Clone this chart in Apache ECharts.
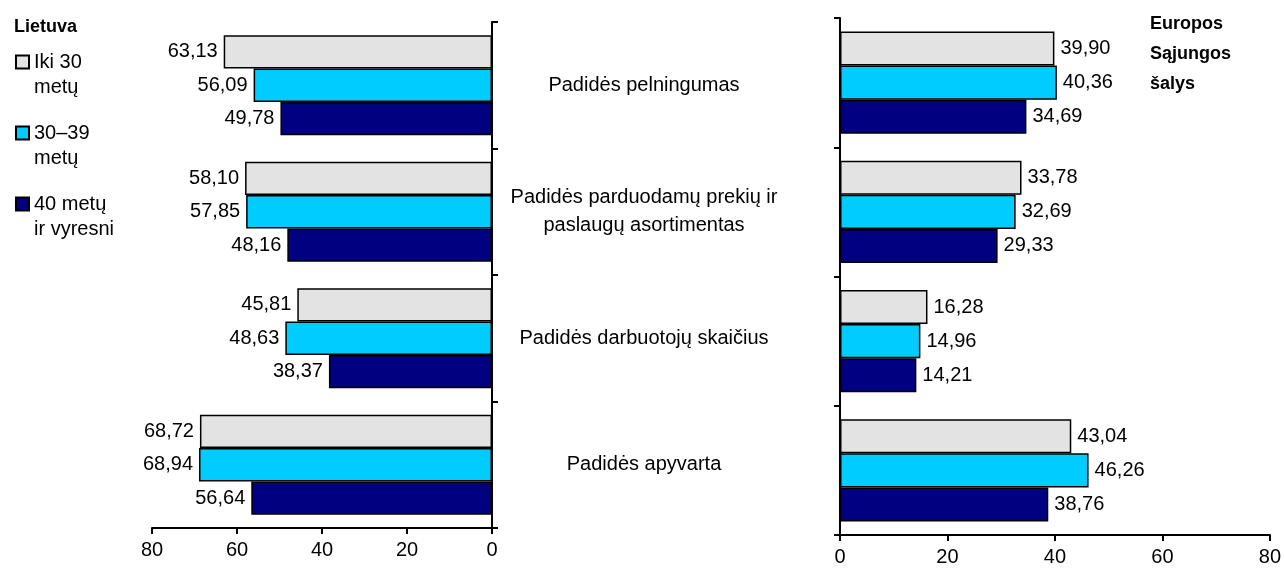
<!DOCTYPE html>
<html>
<head>
<meta charset="utf-8">
<script src="https://cdn.jsdelivr.net/npm/echarts@6/dist/echarts.min.js"></script>
<style>
  html, body { margin: 0; padding: 0; background: #fff; }
  #chart { width: 1284px; height: 577px; }
</style>
</head>
<body>
<div id="chart"></div>
<script>
// kategorijos (iš viršaus į apačią)
const categories = [
  'Padidės pelningumas',
  'Padidės parduodamų prekių ir\npaslaugų asortimentas',
  'Padidės darbuotojų skaičius',
  'Padidės apyvarta'
];
const groups = ['Iki 30 metų', '30–39 metų', '40 metų ir vyresni'];
const legendLines = [['Iki 30', 'metų'], ['30–39', 'metų'], ['40 metų', 'ir vyresni']];

// Lietuva
const ltIki30 = [63.13, 58.10, 45.81, 68.72];
const lt30_39 = [56.09, 57.85, 48.63, 68.94];
const lt40 = [49.78, 48.16, 38.37, 56.64];

// Europos Sąjungos šalys
const esIki30 = [39.90, 33.78, 16.28, 43.04];
const es30_39 = [40.36, 32.69, 14.96, 46.26];
const es40 = [34.69, 29.33, 14.21, 38.76];

const xTicks = [0, 20, 40, 60, 80];

const colors = ['#E3E3E3', '#00CCFF', '#000080'];
const font = '"Liberation Sans", Arial, sans-serif';

const fmt = (v) => v.toFixed(2).replace('.', ',');

function barSeries(name, data, idx, labelPos) {
  return {
    name: name,
    type: 'bar',
    xAxisIndex: idx,
    yAxisIndex: idx,
    data: data,
    barGap: '0%',
    barCategoryGap: '21%',
    itemStyle: { borderColor: '#000', borderWidth: 1.5 },
    label: {
      show: true,
      position: labelPos,
      distance: 6,
      color: '#000',
      fontSize: 20,
      fontFamily: font,
      formatter: (p) => fmt(p.value)
    }
  };
}

const chart = echarts.init(document.getElementById('chart'));

const axisLine = { show: true, lineStyle: { color: '#000', width: 2 } };
const axisTick = { show: true, length: 6, lineStyle: { color: '#000', width: 2 } };

const option = {
  animation: false,
  color: colors,
  textStyle: { fontFamily: font },
  title: [
    {
      text: 'Lietuva',
      left: 14,
      top: 18,
      padding: 0,
      textStyle: { fontSize: 18, fontWeight: 'bold', color: '#000', fontFamily: font }
    },
    {
      text: 'Europos\nSąjungos\nšalys',
      left: 1150,
      top: 9,
      padding: 0,
      textStyle: { fontSize: 18, fontWeight: 'bold', color: '#000', fontFamily: font, lineHeight: 30 }
    }
  ],
  legend: {
    data: groups,
    orient: 'vertical',
    left: 15,
    top: 36,
    padding: 0,
    itemWidth: 13,
    itemHeight: 13,
    itemGap: 10,
    icon: 'rect',
    selectedMode: false,
    // tuščia pirmoji eilutė, kad žymeklis būtų ties pirmąja teksto eilute
    formatter: (name) => {
      const l = legendLines[groups.indexOf(name)];
      return '{gap| }\n{t|' + l[0] + '}\n{t|' + l[1] + '}';
    },
    textStyle: {
      fontSize: 20,
      fontFamily: font,
      color: '#000',
      rich: {
        gap: { fontSize: 2, lineHeight: 25 },
        t: { fontSize: 20, lineHeight: 25, fontFamily: font, color: '#000' }
      }
    }
  },
  grid: [
    { left: 152, right: 792, top: 22, bottom: 49 },
    { left: 840, right: 14, top: 18, bottom: 42 }
  ],
  xAxis: [
    {
      gridIndex: 0,
      type: 'value',
      inverse: true,
      min: xTicks[0],
      max: xTicks[xTicks.length - 1],
      interval: 20,
      splitLine: { show: false },
      axisLine: axisLine,
      axisTick: axisTick,
      axisLabel: { color: '#000', fontSize: 20, fontFamily: font, margin: 12 }
    },
    {
      gridIndex: 1,
      type: 'value',
      min: xTicks[0],
      max: xTicks[xTicks.length - 1],
      interval: 20,
      splitLine: { show: false },
      axisLine: axisLine,
      axisTick: axisTick,
      axisLabel: { color: '#000', fontSize: 20, fontFamily: font, margin: 12 }
    }
  ],
  yAxis: [
    {
      gridIndex: 0,
      type: 'category',
      data: categories,
      inverse: true,
      position: 'right',
      axisLine: axisLine,
      axisTick: axisTick,
      axisLabel: {
        color: '#000',
        fontSize: 20,
        fontFamily: font,
        align: 'center',
        margin: 152,
        lineHeight: 28
      }
    },
    {
      gridIndex: 1,
      type: 'category',
      data: categories,
      inverse: true,
      position: 'left',
      axisLine: axisLine,
      axisTick: axisTick,
      axisLabel: { show: false }
    }
  ],
  series: [
    barSeries(groups[0], ltIki30, 0, 'left'),
    barSeries(groups[1], lt30_39, 0, 'left'),
    barSeries(groups[2], lt40, 0, 'left'),
    barSeries(groups[0], esIki30, 1, 'right'),
    barSeries(groups[1], es30_39, 1, 'right'),
    barSeries(groups[2], es40, 1, 'right')
  ]
};

chart.setOption(option);
window.addEventListener('resize', () => chart.resize());
</script>
</body>
</html>
